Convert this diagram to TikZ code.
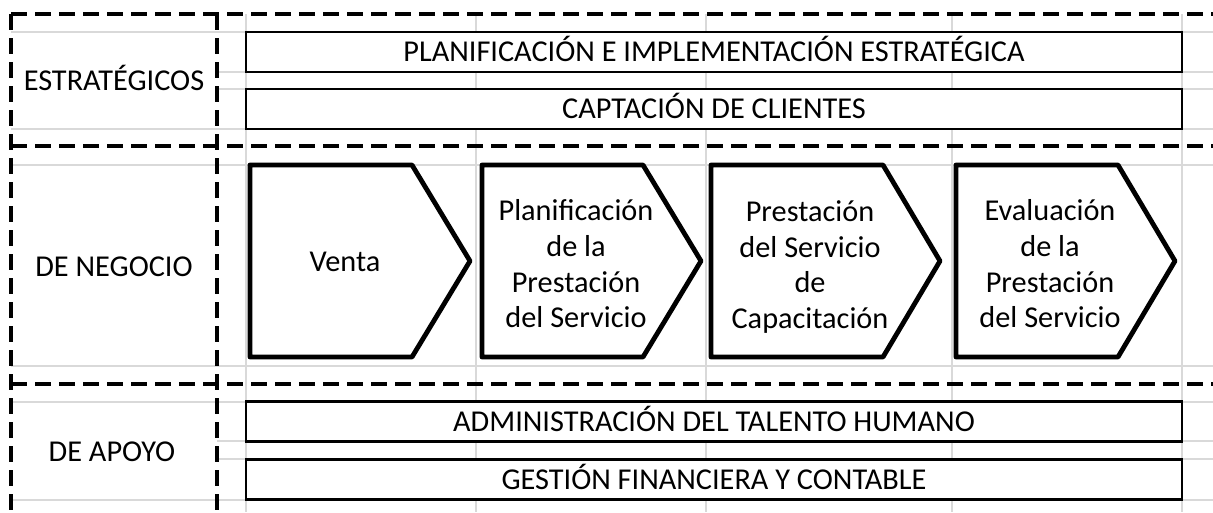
\documentclass[tikz,border=0pt]{standalone}
\usepackage{fontspec}
\setmainfont{Carlito}
\definecolor{gridgray}{RGB}{217,217,217}
\tikzset{every node/.style={font=\fontsize{30.3}{35.7}\selectfont, inner sep=0pt},
  gridline/.style={gridgray, line width=1.3pt},
  sepline/.style={black, line width=4pt, dash pattern=on 16pt off 8pt},
  procbox/.style={draw, fill=white, line width=2.2pt, minimum width=936pt, minimum height=40pt, text height=19pt, text depth=0pt},
  seclabel/.style={text height=19pt, text depth=0pt},
  chevron/.style={draw, fill=white, line width=4.8pt, line join=round},
  chevtext/.style={align=center}}

\begin{document}
\begin{tikzpicture}[x=1pt, y=-1pt]
  \useasboundingbox (0,0) rectangle (1213,512);
  \fill[white] (0,0) rectangle (1213,512);

  % sheet grid
  \draw[gridline] ( 246,14) -- ( 246,512);
  \draw[gridline] ( 476,14) -- ( 476,512);
  \draw[gridline] ( 706,14) -- ( 706,512);
  \draw[gridline] ( 952,14) -- ( 952,512);
  \draw[gridline] (1182,14) -- (1182,512);
  \draw[gridline] ( 11, 32) -- (1213, 32);
  \draw[gridline] (217, 72) -- (1213, 72);
  \draw[gridline] (217, 89) -- (1213, 89);
  \draw[gridline] ( 11,129) -- (1213,129);
  \draw[gridline] ( 11,165) -- (1213,165);
  \draw[gridline] ( 11,366) -- (1213,366);
  \draw[gridline] ( 11,402) -- (1213,402);
  \draw[gridline] (217,441) -- (1213,441);
  \draw[gridline] (217,459) -- (1213,459);
  \draw[gridline] ( 11,500) -- (1213,500);

  % section labels
  \node[seclabel] (estrat)  at (114, 81) {ESTRATÉGICOS};
  \node[seclabel] (negocio) at (114,267) {DE NEGOCIO};
  \node[seclabel] (apoyo)   at (112,452) {DE APOYO};

  % strategic and support processes
  \node[procbox] (planest) at (714, 52)   {PLANIFICACIÓN E IMPLEMENTACIÓN ESTRATÉGICA};
  \node[procbox] (captcli) at (714,109)   {CAPTACIÓN DE CLIENTES};
  \node[procbox] (talento) at (714,421.5) {ADMINISTRACIÓN DEL TALENTO HUMANO};
  \node[procbox] (financ)  at (714,479.5) {GESTIÓN FINANCIERA Y CONTABLE};

  % business chain
  \draw[chevron] ( 250,165) -- ( 412,165) -- ( 470,261) -- ( 412,357) -- ( 250,357) -- cycle;
  \draw[chevron] ( 482,165) -- ( 643,165) -- ( 701,261) -- ( 643,357) -- ( 482,357) -- cycle;
  \draw[chevron] ( 711,165) -- ( 883,165) -- ( 940,261) -- ( 883,357) -- ( 711,357) -- cycle;
  \draw[chevron] ( 956,165) -- (1118,165) -- (1175,261) -- (1118,357) -- ( 956,357) -- cycle;

  \node            (venta)  at ( 345,262) {Venta};
  \node[chevtext]  (planif) at ( 576,264) {Planificación\\de la\\Prestación\\del Servicio};
  \node[chevtext]  (prest)  at ( 810,267) {Prestación\\del Servicio\\de\\Capacitación};
  \node[chevtext]  (evalu)  at (1050,264) {Evaluación\\de la\\Prestación\\del Servicio};

  % section borders
  \draw[sepline] ( 11, 14) -- (1213, 14);
  \draw[sepline] ( 11,146) -- (1213,146);
  \draw[sepline] ( 11,384) -- (1213,384);
  \draw[sepline] ( 11, 14) -- (  11,512);
  \draw[sepline] (217, 14) -- ( 217,512);
\end{tikzpicture}
\end{document}
